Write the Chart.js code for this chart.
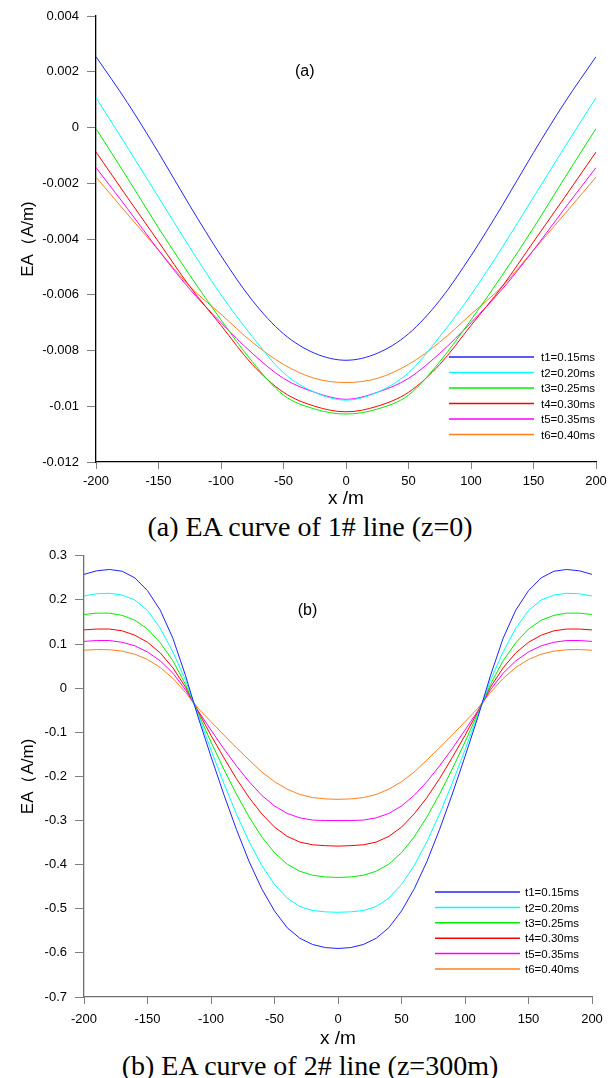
<!DOCTYPE html>
<html>
<head>
<meta charset="utf-8">
<script src="https://cdn.jsdelivr.net/npm/chart.js@4.4.1/dist/chart.umd.min.js"></script>
<style>
  body { margin: 0; background: #fff; }
  #page { position: relative; width: 616px; height: 1078px; background: #fff; }
  canvas { position: absolute; left: 0; }
  .cap { position: absolute; left: 0; width: 620px; text-align: center; line-height: 32px;
         font-family: "Liberation Serif", "Times New Roman", serif; font-size: 28px; color: #000; }
</style>
</head>
<body>
<div id="page">
  <canvas id="chartA" width="616" height="510" style="top:0"></canvas>
  <div class="cap" style="top:511px">(a) EA curve of 1# line (z=0)</div>
  <canvas id="chartB" width="616" height="510" style="top:540px"></canvas>
  <div class="cap" style="top:1050px">(b) EA curve of 2# line (z=300m)</div>
</div>
<script>
const seriesLabels = ['t1=0.15ms', 't2=0.20ms', 't3=0.25ms', 't4=0.30ms', 't5=0.35ms', 't6=0.40ms'];
const seriesColors = ['#2222ff', '#00ffff', '#00ee00', '#ff0000', '#ff00ff', '#ff7f1f'];

// (a) 1# line, z=0
const xA = [-200, -175, -150, -125, -100, -75, -50, -25, 0, 25, 50, 75, 100, 125, 150, 175, 200];
const a_t1 = [0.00254, 0.0009, -0.0009, -0.0028, -0.0046, -0.0062, -0.0074, -0.0081, -0.00835, -0.0081, -0.0074, -0.0062, -0.0046, -0.0028, -0.0009, 0.0009, 0.00254];
const a_t2 = [0.00107, -0.0007, -0.0025, -0.0043, -0.0060, -0.0075, -0.0088, -0.0095, -0.00978, -0.0095, -0.0088, -0.0075, -0.0060, -0.0043, -0.0025, -0.0007, 0.00107];
const a_t3 = [-0.00004, -0.0018, -0.0036, -0.0053, -0.0069, -0.0084, -0.0096, -0.0101, -0.01028, -0.0101, -0.0096, -0.0084, -0.0069, -0.0053, -0.0036, -0.0018, -0.00004];
const a_t4 = [-0.00088, -0.0025, -0.0041, -0.0057, -0.0071, -0.0085, -0.0095, -0.0100, -0.01020, -0.0100, -0.0095, -0.0085, -0.0071, -0.0057, -0.0041, -0.0025, -0.00088];
const a_t5 = [-0.00144, -0.0029, -0.0044, -0.0058, -0.0070, -0.0081, -0.0090, -0.0095, -0.00975, -0.0095, -0.0090, -0.0081, -0.0070, -0.0058, -0.0044, -0.0029, -0.00144];
const a_t6 = [-0.00178, -0.0031, -0.0044, -0.0057, -0.0067, -0.0077, -0.0085, -0.0090, -0.00915, -0.0090, -0.0085, -0.0077, -0.0067, -0.0057, -0.0044, -0.0031, -0.00178];

// (b) 2# line, z=300m
const xB = [-200, -190, -180, -170, -160, -150, -140, -130, -120, -110, -100, -90, -80, -70, -60, -50, -40, -30, -20, -10, 0,
            10, 20, 30, 40, 50, 60, 70, 80, 90, 100, 110, 120, 130, 140, 150, 160, 170, 180, 190, 200];
const b_t1 = [0.258, 0.266, 0.269, 0.265, 0.250, 0.221, 0.177, 0.113, 0.028, -0.067, -0.155, -0.240, -0.320, -0.393, -0.455, -0.505, -0.543, -0.567, -0.581, -0.588, -0.590,
              -0.588, -0.581, -0.567, -0.543, -0.505, -0.455, -0.393, -0.320, -0.240, -0.155, -0.067, 0.028, 0.113, 0.177, 0.221, 0.250, 0.265, 0.269, 0.266, 0.258];
const b_t2 = [0.209, 0.214, 0.215, 0.211, 0.200, 0.176, 0.136, 0.082, 0.018, -0.062, -0.140, -0.215, -0.285, -0.348, -0.402, -0.445, -0.476, -0.495, -0.504, -0.507, -0.508,
              -0.507, -0.504, -0.495, -0.476, -0.445, -0.402, -0.348, -0.285, -0.215, -0.140, -0.062, 0.018, 0.082, 0.136, 0.176, 0.200, 0.211, 0.215, 0.214, 0.209];
const b_t3 = [0.167, 0.170, 0.170, 0.165, 0.154, 0.134, 0.103, 0.062, 0.008, -0.058, -0.122, -0.183, -0.240, -0.292, -0.337, -0.373, -0.399, -0.415, -0.424, -0.428, -0.429,
              -0.428, -0.424, -0.415, -0.399, -0.373, -0.337, -0.292, -0.240, -0.183, -0.122, -0.058, 0.008, 0.062, 0.103, 0.134, 0.154, 0.165, 0.170, 0.170, 0.167];
const b_t4 = [0.132, 0.134, 0.134, 0.130, 0.120, 0.104, 0.080, 0.046, 0.002, -0.054, -0.107, -0.157, -0.205, -0.248, -0.285, -0.315, -0.336, -0.349, -0.355, -0.357, -0.358,
              -0.357, -0.355, -0.349, -0.336, -0.315, -0.285, -0.248, -0.205, -0.157, -0.107, -0.054, 0.002, 0.046, 0.080, 0.104, 0.120, 0.130, 0.134, 0.134, 0.132];
const b_t5 = [0.106, 0.108, 0.108, 0.104, 0.096, 0.082, 0.062, 0.034, -0.004, -0.052, -0.095, -0.137, -0.176, -0.212, -0.243, -0.267, -0.284, -0.294, -0.299, -0.300, -0.300,
              -0.300, -0.299, -0.294, -0.284, -0.267, -0.243, -0.212, -0.176, -0.137, -0.095, -0.052, -0.004, 0.034, 0.062, 0.082, 0.096, 0.104, 0.108, 0.108, 0.106];
const b_t6 = [0.086, 0.0875, 0.087, 0.084, 0.077, 0.065, 0.047, 0.022, -0.010, -0.046, -0.076, -0.106, -0.135, -0.163, -0.190, -0.212, -0.229, -0.241, -0.248, -0.251, -0.252,
              -0.251, -0.248, -0.241, -0.229, -0.212, -0.190, -0.163, -0.135, -0.106, -0.076, -0.046, -0.010, 0.022, 0.047, 0.065, 0.077, 0.084, 0.087, 0.0875, 0.086];

const FONT = '"Liberation Sans", Arial, sans-serif';

// legend drawn inside the plot, one short line per dataset
const lineKey = {
  id: 'lineKey',
  afterDraw(chart, args, o) {
    const ctx = chart.ctx;
    ctx.save();
    chart.data.datasets.forEach((ds, i) => {
      const y = o.y + i * o.dy;
      ctx.strokeStyle = ds.borderColor;
      ctx.lineWidth = 1.5;
      ctx.beginPath();
      ctx.moveTo(o.x0, y);
      ctx.lineTo(o.x1, y);
      ctx.stroke();
      ctx.fillStyle = '#000';
      ctx.font = '11.5px ' + FONT;
      ctx.textBaseline = 'middle';
      ctx.fillText(ds.label, o.tx, y + 1);
    });
    ctx.restore();
  }
};

// panel tag such as "(a)"
const panelTag = {
  id: 'panelTag',
  afterDraw(chart, args, o) {
    const ctx = chart.ctx;
    ctx.save();
    ctx.font = '16px ' + FONT;
    ctx.fillStyle = '#000';
    ctx.textAlign = 'center';
    ctx.textBaseline = 'middle';
    ctx.fillText(o.text, chart.scales.x.getPixelForValue(o.at[0]), chart.scales.y.getPixelForValue(o.at[1]));
    ctx.restore();
  }
};

function fmt(v) {
  if (Math.abs(v) < 1e-9) return '0';
  return String(+v.toFixed(4));
}

function makeChart(id, xs, ys, cfg) {
  const datasets = ys.map((vals, i) => ({
    label: seriesLabels[i],
    data: xs.map((x, j) => ({ x: x, y: vals[j] })),
    borderColor: seriesColors[i],
    borderWidth: 1,
    pointRadius: 0,
    fill: false,
    tension: cfg.smooth ? 0.4 : 0,
    cubicInterpolationMode: cfg.smooth ? 'monotone' : 'default'
  }));
  return new Chart(document.getElementById(id), {
    type: 'line',
    data: { datasets: datasets },
    plugins: [lineKey, panelTag],
    options: {
      responsive: false,
      animation: false,
      layout: { padding: { left: 0, right: cfg.right, top: cfg.top, bottom: 0 } },
      plugins: {
        legend: { display: false },
        tooltip: { enabled: false },
        lineKey: cfg.key,
        panelTag: cfg.tag
      },
      scales: {
        x: {
          type: 'linear', min: -200, max: 200,
          afterFit: s => { s.height = cfg.xh; },
          ticks: { stepSize: 50, color: '#000', font: { size: 13, family: FONT }, padding: cfg.xpad, maxRotation: 0 },
          grid: { drawOnChartArea: false, drawTicks: true, tickLength: 7, color: '#808080' },
          border: { color: cfg.axis, width: 1.3 },
          title: { display: true, text: 'x /m', color: '#000', font: { size: 19, family: FONT }, padding: { top: 0, bottom: 0 } }
        },
        y: {
          min: cfg.ymin, max: cfg.ymax,
          afterFit: s => { s.width = cfg.yw; },
          ticks: { stepSize: cfg.ystep, color: '#000', font: { size: 13, family: FONT }, padding: 8, callback: fmt },
          grid: { drawOnChartArea: false, drawTicks: true, tickLength: 9, color: '#808080' },
          border: { color: cfg.axis, width: 1.3 },
          title: { display: true, text: 'EA（A/m)', color: '#000', font: { size: 17, family: FONT }, padding: { top: 18, bottom: 0 } }
        }
      }
    }
  });
}

makeChart('chartA', xA, [a_t1, a_t2, a_t3, a_t4, a_t5, a_t6], {
  smooth: true, ymin: -0.012, ymax: 0.004, ystep: 0.002,
  yw: 96, xh: 48, top: 16, right: 20, xpad: 5, axis: '#000',
  key: { x0: 449, x1: 534, tx: 541, y: 357, dy: 15.5 },
  tag: { text: '(a)', at: [-33, 0.002] }
});

makeChart('chartB', xB, [b_t1, b_t2, b_t3, b_t4, b_t5, b_t6], {
  smooth: false, ymin: -0.7, ymax: 0.3, ystep: 0.1,
  yw: 84, xh: 53, top: 9, right: 24, xpad: 8, axis: '#707070',
  key: { x0: 435, x1: 520, tx: 525, y: 352, dy: 15.4 },
  tag: { text: '(b)', at: [-24, 0.176] }
});
</script>
</body>
</html>
